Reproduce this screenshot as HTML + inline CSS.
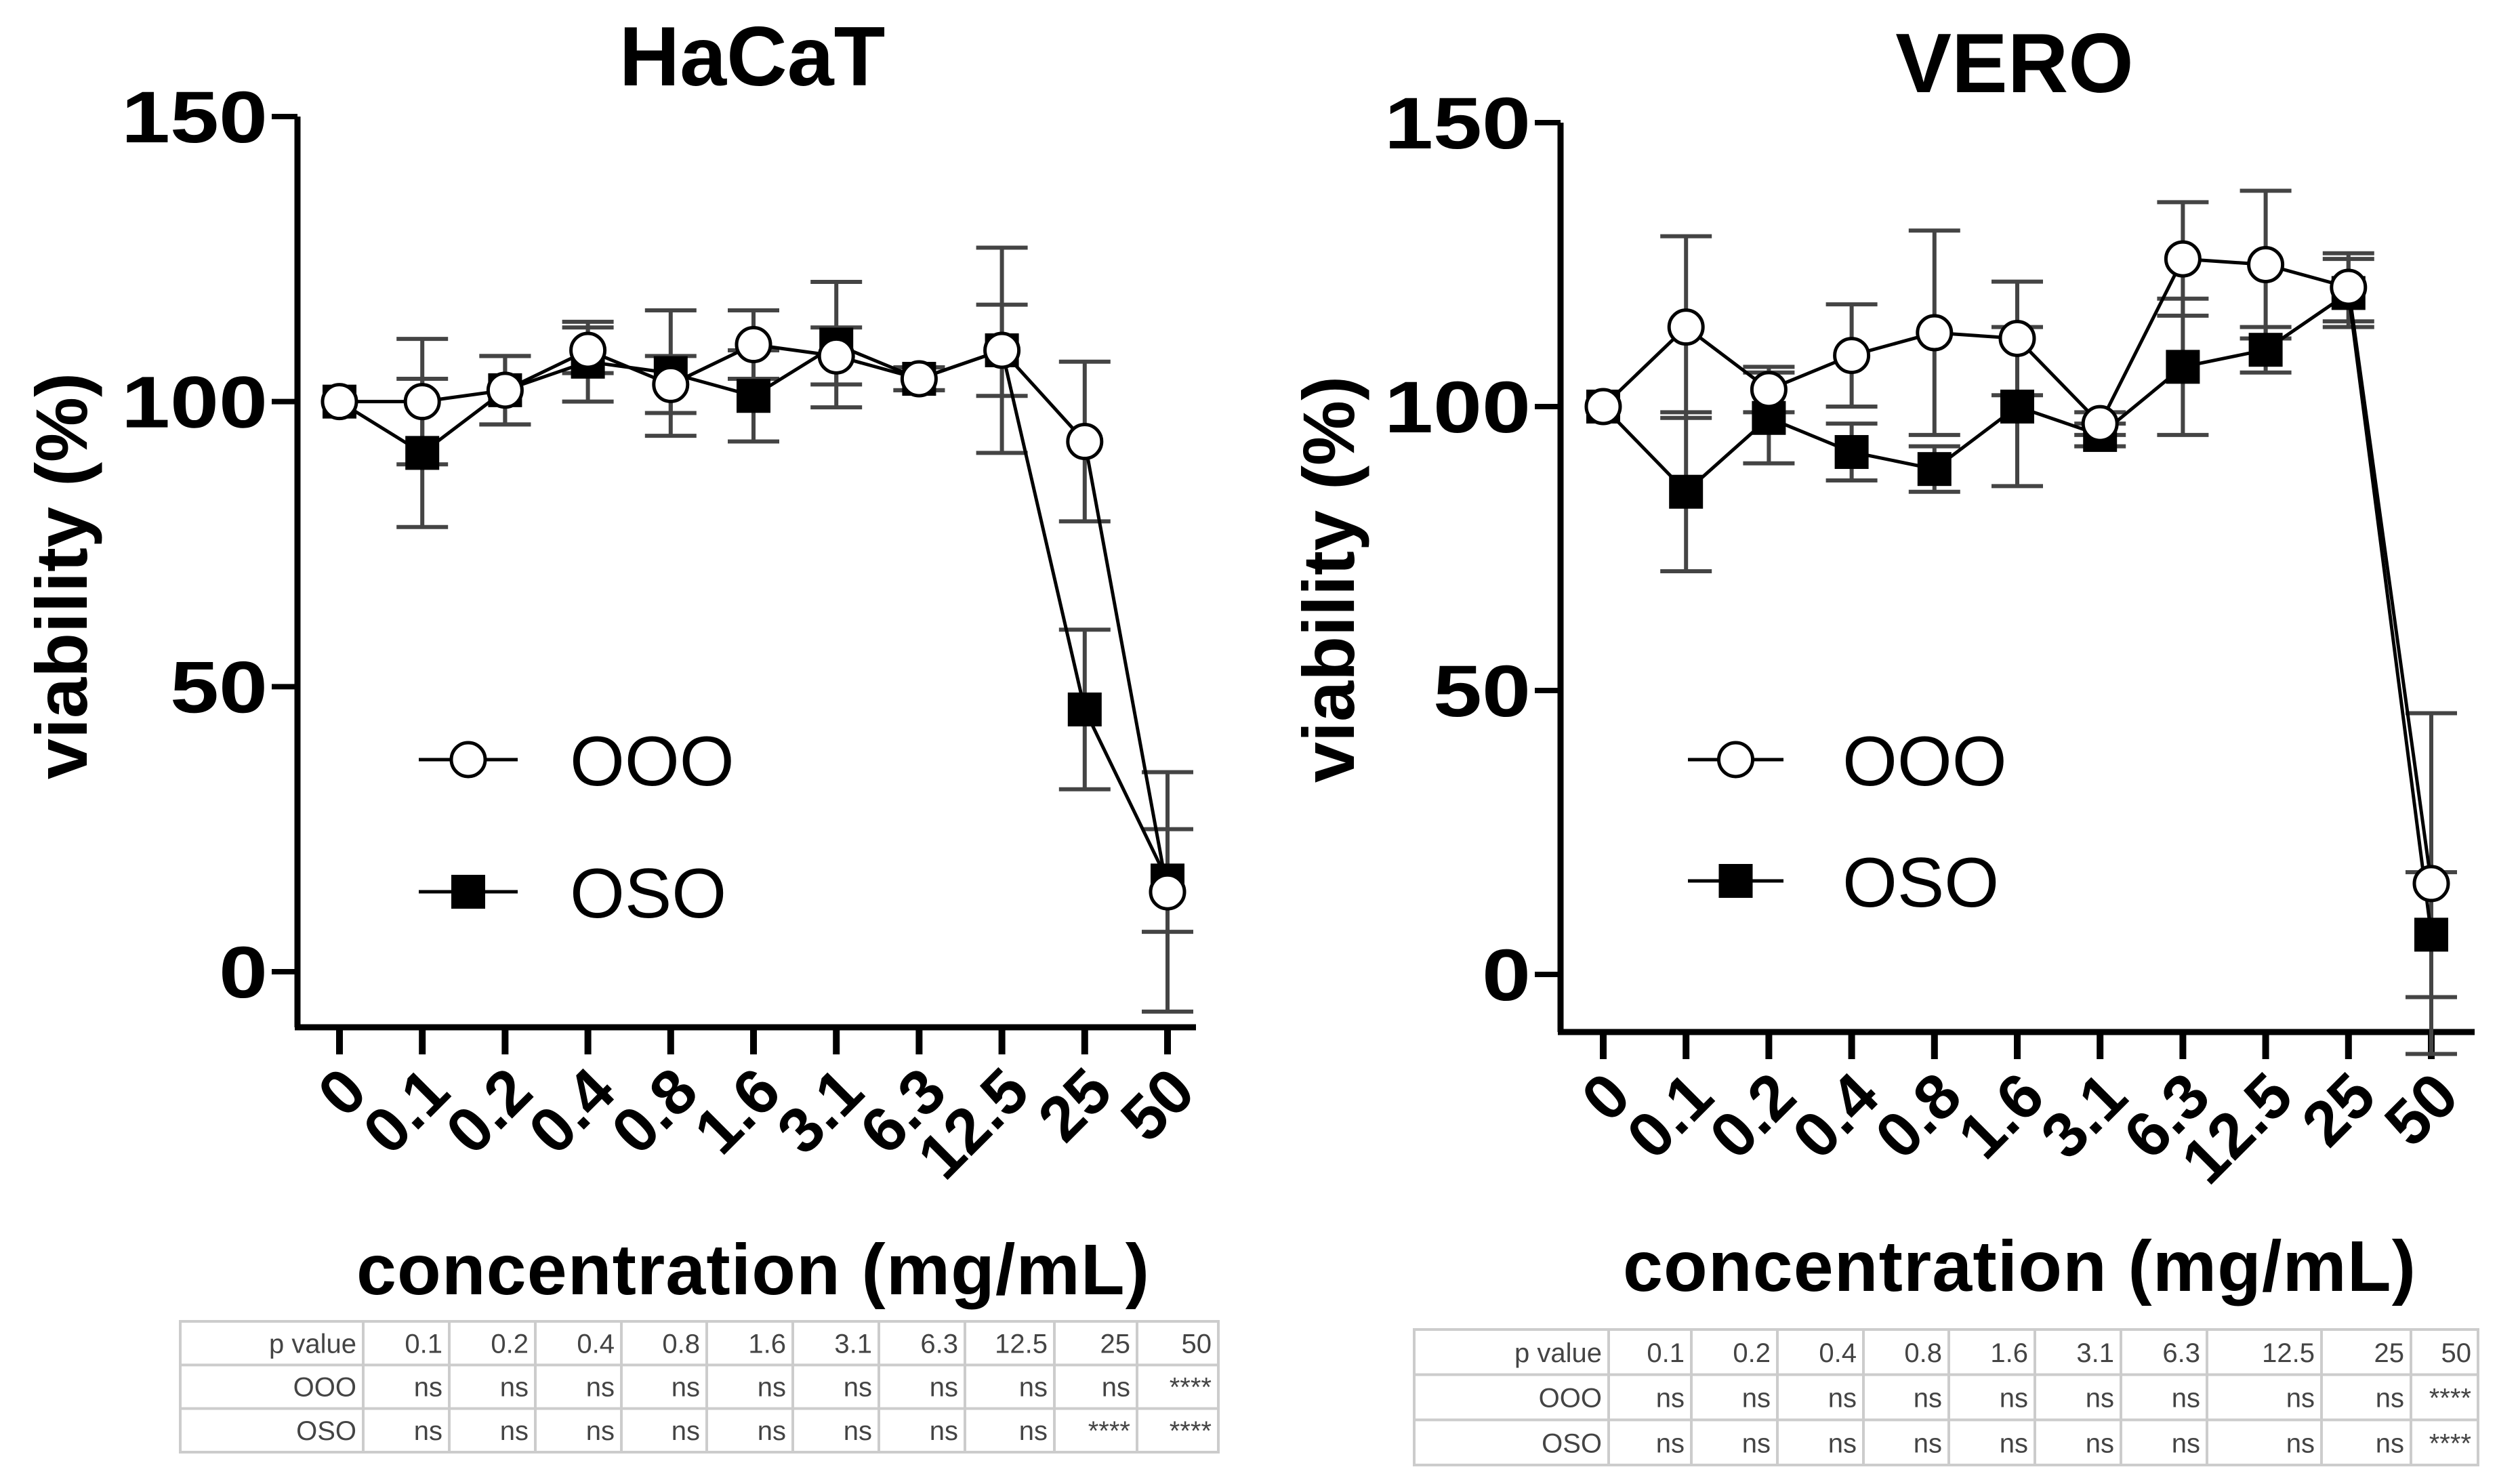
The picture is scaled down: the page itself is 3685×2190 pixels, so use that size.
<!DOCTYPE html>
<html><head><meta charset="utf-8"><style>
html,body{margin:0;padding:0;background:#fff}
svg{display:block}
text{font-family:"Liberation Sans",Arial,sans-serif}
</style></head><body>
<svg id="fig" width="3685" height="2190" viewBox="0 0 3685 2190" xmlns="http://www.w3.org/2000/svg"></svg>
<script>
const categories = ["0","0.1","0.2","0.4","0.8","1.6","3.1","6.3","12.5","25","50"];
const yTicks = [0,50,100,150];
const hacatOOO = [100,100,102,109,103,110,108,104,109,93,14];
const hacatOOOErr = [0,11,6,4,5,6,5,2,18,14,21];
const hacatOSO = [100,91,102,107,105,101,110,104,109,46,16];
const hacatOSOErr = [0,13,6,7,11,8,11,2,8,14,9];
const veroOOO = [100,114,103,109,113,112,97,126,125,121,16];
const veroOOOErr = [0,16,4,9,18,10,2,10,13,6,30];
const veroOSO = [100,85,98,92,89,100,95,107,110,120,7];
const veroOSOErr = [0,14,8,5,4,14,2,12,4,6,11];
const tableHeader = ["p value","0.1","0.2","0.4","0.8","1.6","3.1","6.3","12.5","25","50"];
const hacatOOORow = ["OOO","ns","ns","ns","ns","ns","ns","ns","ns","ns","****"];
const hacatOSORow = ["OSO","ns","ns","ns","ns","ns","ns","ns","ns","****","****"];
const veroOOORow = ["OOO","ns","ns","ns","ns","ns","ns","ns","ns","ns","****"];
const veroOSORow = ["OSO","ns","ns","ns","ns","ns","ns","ns","ns","ns","****"];

const NS="http://www.w3.org/2000/svg";
const svg=document.getElementById('fig');
function el(tag,attrs,parent,txt){const e=document.createElementNS(NS,tag);for(const k in attrs)e.setAttribute(k,attrs[k]);if(txt!==undefined)e.textContent=txt;(parent||svg).appendChild(e);return e;}

function drawChart(c){
  const g=el('g',{});
  
  
  const ys=v=>c.y0+(c.y150-c.y0)*v/150;
  const xs=i=>c.x0+(c.x50-c.x0)*i/(categories.length-1);
  const t=el('text',{x:c.titleX,y:c.titleY,'font-size':124,'font-weight':'bold','text-anchor':'middle'},g,c.title);
  
  
  const ya=el('line',{x1:c.ax,y1:c.y150,x2:c.ax,y2:c.axY,stroke:'#000','stroke-width':9},g);
  
  
  const xa=el('line',{x1:c.ax-4,y1:c.axY,x2:c.xEnd,y2:c.axY,stroke:'#000','stroke-width':9},g);
  
  
  yTicks.forEach(v=>{
    el('line',{x1:c.ax-38,y1:ys(v),x2:c.ax,y2:ys(v),stroke:'#000','stroke-width':8},g);
    const s=String(v);
    const tl=el('text',{x:c.ax-44,y:ys(v)+38,'font-size':108,'font-weight':'bold','text-anchor':'end',textLength:s.length*72,lengthAdjust:'spacingAndGlyphs'},g,s);
    
    
  });
  categories.forEach((cat,i)=>{
    el('line',{x1:xs(i),y1:c.axY,x2:xs(i),y2:c.axY+40,stroke:'#000','stroke-width':10},g);
    const px=xs(i)+45, py=c.axY+100;
    const tl=el('text',{x:px,y:py,'font-size':94,'font-weight':'bold','text-anchor':'end',transform:`rotate(-45 ${px} ${py})`},g,cat);
    
    
  });
  const yt=el('text',{x:0,y:0,'font-size':108,'font-weight':'bold','text-anchor':'middle',transform:`translate(${c.yTitleX} ${c.yTitleY}) rotate(-90)`},g,'viability (%)');
  
  
  const xt=el('text',{x:c.xTitleX,y:c.xTitleY,'font-size':106,'font-weight':'bold','text-anchor':'middle',textLength:1170},g,'concentration (mg/mL)');
  
  
  const series=[{v:c.ooo,e:c.oooErr,m:'circle',n:'ooo'},{v:c.oso,e:c.osoErr,m:'square',n:'oso'}];
  series.forEach(s=>{
    s.v.forEach((v,i)=>{
      if(!s.e[i])return;
      const eb=el('g',{stroke:'#444','stroke-width':6},g);
      
      
      el('line',{x1:xs(i),y1:ys(v+s.e[i]),x2:xs(i),y2:ys(v-s.e[i])},eb);
      el('line',{x1:xs(i)-38,y1:ys(v+s.e[i]),x2:xs(i)+38,y2:ys(v+s.e[i])},eb);
      el('line',{x1:xs(i)-38,y1:ys(v-s.e[i]),x2:xs(i)+38,y2:ys(v-s.e[i])},eb);
    });
  });
  series.forEach(s=>{
    const pl=el('polyline',{points:s.v.map((v,i)=>xs(i)+','+ys(v)).join(' '),fill:'none',stroke:'#000','stroke-width':5},g);
    
    
  });
  series.slice().reverse().forEach(s=>{
    s.v.forEach((v,i)=>{
      let m;
      if(s.m==='circle') m=el('circle',{cx:xs(i),cy:ys(v),r:25,fill:'#fff',stroke:'#000','stroke-width':5},g);
      else m=el('rect',{x:xs(i)-25,y:ys(v)-25,width:50,height:50,fill:'#000'},g);
      
      
    });
  });
  const lg=el('g',{},g);
  
  
  [[c.legY1,'circle','OOO'],[c.legY2,'square','OSO']].forEach(([y,m,lab])=>{
    el('line',{x1:c.legX1,y1:y,x2:c.legX2,y2:y,stroke:'#000','stroke-width':5},lg);
    const mx=(c.legX1+c.legX2)/2;
    if(m==='circle') el('circle',{cx:mx,cy:y,r:25,fill:'#fff',stroke:'#000','stroke-width':5},lg);
    else el('rect',{x:mx-25,y:y-25,width:50,height:50,fill:'#000'},lg);
    const lt=el('text',{x:c.legTX,y:y+38,'font-size':104},lg,lab);
    
    
  });
  const tb=el('g',{},g);
  
  
  const rows=[tableHeader,c.row1,c.row2];
  const rh=(c.tY2-c.tY1)/3;
  el('rect',{x:c.tX1,y:c.tY1,width:c.tX2-c.tX1,height:c.tY2-c.tY1,fill:'none',stroke:'#ccc','stroke-width':4},tb);
  for(let r=1;r<3;r++) el('line',{x1:c.tX1,y1:c.tY1+r*rh,x2:c.tX2,y2:c.tY1+r*rh,stroke:'#ccc','stroke-width':4},tb);
  c.cols.forEach(x=>el('line',{x1:x,y1:c.tY1,x2:x,y2:c.tY2,stroke:'#ccc','stroke-width':4},tb));
  const edges=[c.tX1].concat(c.cols).concat([c.tX2]);
  rows.forEach((row,r)=>row.forEach((txt,j)=>{
    const tt=el('text',{x:edges[j+1]-10,y:c.tY1+r*rh+rh*0.72,'font-size':40,fill:'#444','text-anchor':'end'},tb,txt);
    
    
  }));
}

drawChart({name:'hacat',title:'HaCaT',titleX:1110,titleY:126,ax:439,axY:1516,xEnd:1765,y0:1434,y150:172,x0:501,x50:1723,
  yTitleX:128,yTitleY:850,xTitleX:1111,xTitleY:1910,legX1:618,legX2:764,legY1:1121,legY2:1316,legTX:841,
  ooo:hacatOOO,oooErr:hacatOOOErr,oso:hacatOSO,osoErr:hacatOSOErr,row1:hacatOOORow,row2:hacatOSORow,
  tX1:266,tX2:1798,tY1:1950,tY2:2143,cols:[536,663,790,917,1043,1170,1297,1424,1556,1678]});
drawChart({name:'vero',title:'VERO',titleX:2973,titleY:136,ax:2303,axY:1523,xEnd:3652,y0:1438,y150:181,x0:2366,x50:3588,
  yTitleX:1998,yTitleY:855,xTitleX:2980,xTitleY:1905,legX1:2491,legX2:2632,legY1:1121,legY2:1300,legTX:2719,
  ooo:veroOOO,oooErr:veroOOOErr,oso:veroOSO,osoErr:veroOSOErr,row1:veroOOORow,row2:veroOSORow,
  tX1:2087,tX2:3657,tY1:1962,tY2:2162,cols:[2374,2496,2623,2750,2876,3003,3130,3257,3426,3558]});
</script>
</body></html>
